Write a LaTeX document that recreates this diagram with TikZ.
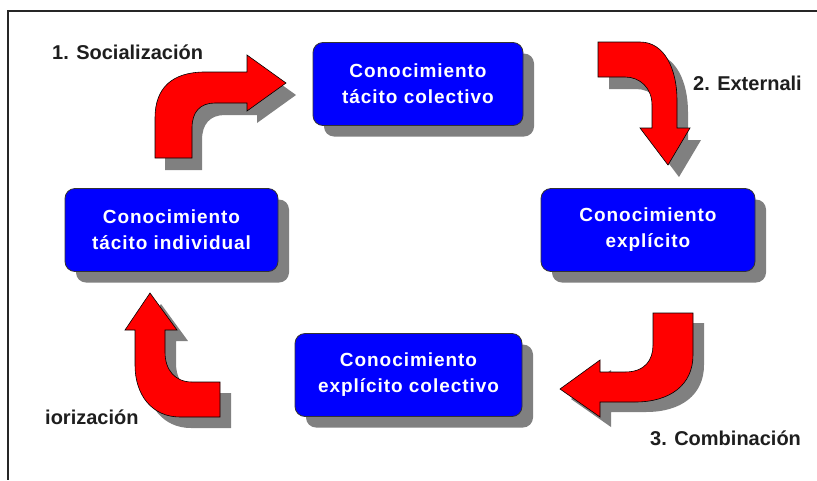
\documentclass[tikz,border=0pt]{standalone}
\usepackage{fontspec}
\setmainfont{Liberation Sans}
\usetikzlibrary{shadows}
\definecolor{boxblue}{RGB}{0,0,255}
\definecolor{shadowgray}{RGB}{128,128,128}
\definecolor{arrowred}{RGB}{255,0,0}
\definecolor{labelgray}{RGB}{30,30,30}
\tikzset{
  kbox/.style={draw=black!80, line width=0.8pt, fill=boxblue, rounded corners=10pt,
    minimum width=#1, minimum height=83pt, inner sep=0pt, align=center, text=white,
    font=\fontsize{19}{26}\selectfont\bfseries\addfontfeature{LetterSpace=5},
    drop shadow={shadow xshift=11pt, shadow yshift=-11pt, fill=shadowgray, opacity=1}},
  klabel/.style={anchor=west, inner sep=0pt, text=labelgray,
    font=\fontsize{20}{24}\selectfont\bfseries},
  arrowfill/.style={fill=arrowred, draw=black, line width=0.6pt},
  arrowshadow/.style={fill=shadowgray},
  arrowone/.pic={\path[pic actions] (155,158) -- (155,118) .. controls (155,88) and (172,72) .. (205,72) -- (247,72) -- (247,55) -- (286,83) -- (247,111) -- (247,103) -- (215,103) .. controls (200,103) and (192,112) .. (192,128) -- (192,158) -- cycle;},
  arrowtwo/.pic={\path[pic actions] (598,42) -- (640,42) .. controls (665,42) and (677,70) .. (677,100) -- (677,128) -- (690,128) -- (668,165) -- (640,128) -- (652,128) -- (652,105) .. controls (652,88) and (640,77) .. (625,77) -- (598,77) -- cycle;},
  arrowthree/.pic={\path[pic actions] (653,313) -- (693,313) -- (693,355) .. controls (693,385) and (670,402) .. (635,402) -- (600,402) -- (600,417) -- (560,389) -- (600,360) -- (600,372) -- (625,372) .. controls (645,372) and (653,360) .. (653,345) -- cycle;},
  arrowfour/.pic={\path[pic actions] (220,382) -- (220,417) -- (180,417) .. controls (152,417) and (135,395) .. (135,365) -- (135,330) -- (125,330) -- (150,293) -- (177,330) -- (165,330) -- (165,352) .. controls (165,370) and (175,382) .. (192,382) -- cycle;}
}
\begin{document}
\begin{tikzpicture}[x=1pt,y=-1pt]
\useasboundingbox (0,0) rectangle (817,480);
\fill[white] (0,0) rectangle (817,480);
% frame
\draw[line width=1.4pt, black!85] (817,11) -- (8,11) -- (8,480);
% boxes
\node[kbox=210pt] (tc) at (418,84) {Conocimiento\\tácito colectivo};
\node[kbox=213pt] (ti) at (171.5,230) {Conocimiento\\tácito individual};
\node[kbox=214pt] (ex) at (648,230) {Conocimiento\\explícito};
\node[kbox=227pt] (ec) at (408.5,375) {Conocimiento\\explícito colectivo};
% arrows: shadows
\pic[arrowshadow] at (10,12) {arrowone};
\pic[arrowshadow] at (11,12) {arrowtwo};
\pic[arrowshadow] at (11,10) {arrowthree};
\pic[arrowshadow] at (11,11) {arrowfour};
% arrows
\pic[arrowfill] at (0,0) {arrowone};
\pic[arrowfill] at (0,0) {arrowtwo};
\pic[arrowfill] at (0,0) {arrowthree};
\pic[arrowfill] at (0,0) {arrowfour};
% labels
\node[klabel] (l1) at (52,52) {1. Socialización};
\node[klabel] (l2) at (693,83) {2. Externali};
\node[klabel] (l3) at (650,438) {3. Combinación};
\node[klabel] (l4) at (45,417) {iorización};
\end{tikzpicture}
\end{document}
